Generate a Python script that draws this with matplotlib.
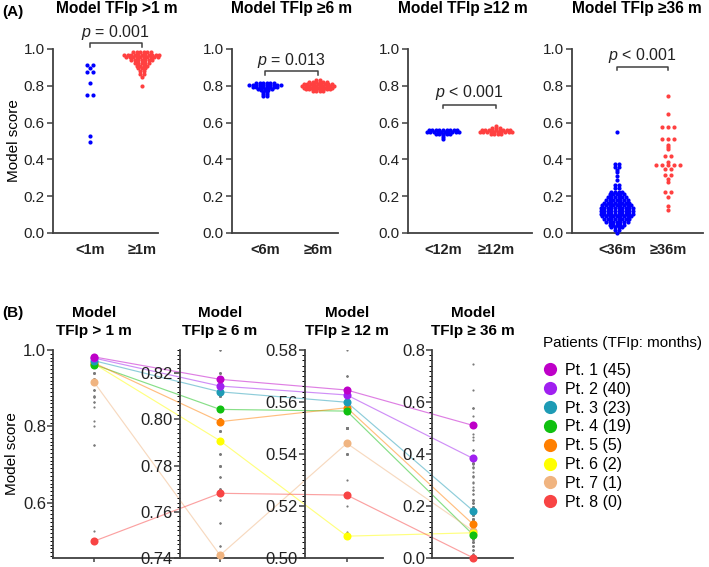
import numpy as np
import matplotlib
matplotlib.use("Agg")
import matplotlib.pyplot as plt
from matplotlib.lines import Line2D
from matplotlib.patches import ConnectionPatch
from matplotlib.ticker import MultipleLocator, FormatStrFormatter

plt.rcParams["font.family"] = ["Liberation Sans", "DejaVu Sans"]
plt.rcParams["mathtext.fontset"] = "custom"
plt.rcParams["mathtext.it"] = "Liberation Sans:italic"
plt.rcParams["mathtext.rm"] = "Liberation Sans"

W, H = 709, 567
AXC = "#404040"
BLUE = "#0000FF"
RED = "#FF4040"

lt1_levels = [0.915, 0.895, 0.877, 0.814, 0.752, 0.527, 0.495]
lt1_counts = [2, 1, 2, 1, 2, 1, 1]
ge1_levels = [0.985, 0.97, 0.955, 0.94, 0.925, 0.91, 0.895, 0.88, 0.865, 0.85, 0.80]
ge1_counts = [6, 11, 10, 7, 5, 4, 3, 2, 2, 1, 1]

lt6_levels = [0.815, 0.805, 0.795, 0.785, 0.775, 0.765, 0.755, 0.745]
lt6_counts = [6, 10, 8, 5, 3, 2, 2, 2]
ge6_levels = [0.83, 0.82, 0.81, 0.80, 0.79, 0.78, 0.77]
ge6_counts = [2, 6, 9, 10, 9, 8, 4]

lt12_levels = [0.56, 0.55, 0.54, 0.53, 0.52, 0.51]
lt12_counts = [9, 10, 5, 1, 1, 1]
ge12_levels = [0.58, 0.57, 0.56, 0.55, 0.54]
ge12_counts = [1, 3, 9, 10, 4]

lt36_levels = [0.547, 0.376, 0.36, 0.345, 0.33, 0.31, 0.29, 0.26, 0.245,
               0.225, 0.21, 0.195, 0.18, 0.165, 0.15, 0.135, 0.12, 0.105,
               0.09, 0.075, 0.06, 0.045, 0.03, 0.015, 0.0]
lt36_counts = [1, 2, 2, 1, 1, 1, 1, 2, 2,
               4, 5, 6, 7, 8, 9, 10, 10, 10,
               9, 8, 7, 5, 4, 2, 1]
ge36_levels = [0.746, 0.647, 0.576, 0.509, 0.478, 0.466, 0.455, 0.416, 0.384,
               0.367, 0.35, 0.314, 0.293, 0.275, 0.224, 0.197, 0.148, 0.123]
ge36_counts = [1, 1, 3, 3, 1, 1, 1, 2, 1, 5, 2, 2, 1, 1, 2, 1, 1, 1]

a_titles = ["Model TFIp >1 m", "Model TFIp \u22656 m", "Model TFIp \u226512 m", "Model TFIp \u226536 m"]
a_groups = [["<1m", "\u22651m"], ["<6m", "\u22656m"], ["<12m", "\u226512m"], ["<36m", "\u226536m"]]
p_texts = [r"$p$ = 0.001", r"$p$ = 0.013", r"$p$ < 0.001", r"$p$ < 0.001"]

# ---- Panel B: the eight patients' scores under each model
b_titles = ["Model\nTFIp > 1 m", "Model\nTFIp \u2265 6 m", "Model\nTFIp \u2265 12 m", "Model\nTFIp \u2265 36 m"]
pt_labels = ["Pt. 1 (45)", "Pt. 2 (40)", "Pt. 3 (23)", "Pt. 4 (19)",
             "Pt. 5 (5)", "Pt. 6 (2)", "Pt. 7 (1)", "Pt. 8 (0)"]
pt_colors = ["#BE00C8", "#A020F0", "#1E9BB5", "#10C010",
             "#FF7F00", "#FFFF00", "#F0B480", "#F84444"]
pt_m1 = [0.982, 0.979, 0.972, 0.962, 0.966, 0.964, 0.916, 0.499]
pt_m6 = [0.8173, 0.8144, 0.8119, 0.8043, 0.7990, 0.7907, 0.7412, 0.768]
pt_m12 = [0.5646, 0.5627, 0.5599, 0.5565, 0.5578, 0.5084, 0.5441, 0.5242]
pt_m36 = [0.510, 0.383, 0.182, 0.09, 0.130, 0.097, 0.105, 0.001]


def add_ax(left, right, top, bottom):
    return fig.add_axes([left / W, 1 - bottom / H, (right - left) / W, (bottom - top) / H])


def style(ax):
    for s in ["top", "right"]:
        ax.spines[s].set_visible(False)
    for s in ["left", "bottom"]:
        ax.spines[s].set_color(AXC)
        ax.spines[s].set_linewidth(1.3)
    ax.tick_params(colors=AXC, labelcolor="#222222", width=1.1)
    ax.set_facecolor("none")


def swarm(ax, x0, levels, counts, d_px, color):
    px = ax.transData.transform((1, 0))[0] - ax.transData.transform((0, 0))[0]
    dx = d_px / px
    xs, ys = [], []
    for v, n in zip(levels, counts):
        for i in range(n):
            xs.append(x0 + (i - (n - 1) / 2) * dx)
            ys.append(v)
    ax.scatter(xs, ys, s=9, color=color, linewidths=0, clip_on=False, zorder=3)


fig = plt.figure(figsize=(W / 100, H / 100), dpi=100)

# ---------------- Panel A
a_box = [(53, 158), (232, 338), (408, 532), (572, 703)]
a_xlim = [(-0.71, 1.31), (-0.62, 1.38), (-0.66, 1.68), (-0.88, 1.69)]
a_data = [
    (lt1_levels, lt1_counts, ge1_levels, ge1_counts, 6.0, 3.5),
    (lt6_levels, lt6_counts, ge6_levels, ge6_counts, 3.5, 3.5),
    (lt12_levels, lt12_counts, ge12_levels, ge12_counts, 3.6, 3.6),
    (lt36_levels, lt36_counts, ge36_levels, ge36_counts, 3.6, 6.0),
]
a_bracket = [1.031, 0.880, 0.696, 0.904]
a_ptext = [1.092, 0.94, 0.763, 0.967]
a_title_x = [117, 292, 463, 637]

for k in range(4):
    ax = add_ax(a_box[k][0], a_box[k][1], 49, 233)
    style(ax)
    ax.set_xlim(*a_xlim[k])
    ax.set_ylim(0, 1)
    ax.yaxis.set_major_locator(MultipleLocator(0.2))
    ax.yaxis.set_major_formatter(FormatStrFormatter("%.1f"))
    ax.tick_params(axis="y", length=4, labelsize=11, pad=2)
    ax.set_xticks([0, 1])
    ax.set_xticklabels(a_groups[k], fontweight="bold", fontsize=10.5)
    ax.tick_params(axis="x", length=0, pad=7)
    lv1, c1, lv2, c2, d1, d2 = a_data[k]
    swarm(ax, 0, lv1, c1, d1, BLUE)
    swarm(ax, 1, lv2, c2, d2, RED)
    yb = a_bracket[k]
    ax.plot([0, 0, 1, 1], [yb - 0.019, yb, yb, yb - 0.019], color=AXC, lw=1.1, clip_on=False)
    ax.text(0.5, a_ptext[k], p_texts[k], ha="center", va="center", fontsize=11.5,
            color="#222222", clip_on=False)
    fig.text(a_title_x[k] / W, 1 - 8 / H, a_titles[k], ha="center", va="center",
             fontsize=11.2, fontweight="bold")

fig.text(2 / W, 1 - 12 / H, "(A)", ha="left", va="center", fontsize=11, fontweight="bold")
fig.text(14 / W, 1 - 141 / H, "Model score", rotation=90, ha="center", va="center", fontsize=11)

# ---------------- Panel B
b_box = [(53, 180), (180, 305), (305, 383), (432, 513)]
b_xlim = [(-1.0, 2.1), (-0.976, 2.07), (-1.02, 0.88), (-1.0, 0.976)]
b_ylim = [(0.455, 1.0), (0.74, 0.83), (0.50, 0.58), (0.0, 0.8)]
b_major = [0.2, 0.02, 0.02, 0.2]
b_minor = [0.01, 0.002, 0.002, 0.02]
b_fmt = ["%.1f", "%.2f", "%.2f", "%.1f"]
b_scores = [pt_m1, pt_m6, pt_m12, pt_m36]
b_grey = [
    np.repeat(lt1_levels + ge1_levels, lt1_counts + ge1_counts),
    np.repeat(lt6_levels + ge6_levels, lt6_counts + ge6_counts),
    np.repeat(lt12_levels + ge12_levels, lt12_counts + ge12_counts),
    np.repeat(lt36_levels + ge36_levels, lt36_counts + ge36_counts),
]

baxes = []
for k in range(4):
    ax = add_ax(b_box[k][0], b_box[k][1], 350, 558)
    style(ax)
    ax.set_xlim(*b_xlim[k])
    ax.set_ylim(*b_ylim[k])
    ax.yaxis.set_major_locator(MultipleLocator(b_major[k]))
    ax.yaxis.set_minor_locator(MultipleLocator(b_minor[k]))
    ax.yaxis.set_major_formatter(FormatStrFormatter(b_fmt[k]))
    ax.tick_params(axis="y", which="major", length=4, labelsize=12, pad=1)
    ax.tick_params(axis="y", which="minor", length=2, width=0.7)
    ax.set_xticks([0])
    ax.set_xticklabels([""])
    ax.tick_params(axis="x", length=3)
    g = b_grey[k]
    ax.scatter(np.zeros(len(g)), g, s=2.5, color="#7A7A7A", linewidths=0, zorder=2)
    for j in range(7, -1, -1):
        ax.plot(0, b_scores[k][j], "o", ms=5.8, color=pt_colors[j], mew=0,
                zorder=4, clip_on=False)
    ax.text(0, 1.135, b_titles[k], transform=ax.get_xaxis_transform(), ha="center",
            va="center", fontsize=11, fontweight="bold", linespacing=1.3)
    baxes.append(ax)

for k in range(3):
    for j in range(8):
        cp = ConnectionPatch(xyA=(0, b_scores[k][j]), coordsA=baxes[k].transData,
                             xyB=(0, b_scores[k + 1][j]), coordsB=baxes[k + 1].transData,
                             color=pt_colors[j], alpha=0.5, lw=0.85, zorder=-1)
        fig.add_artist(cp)

fig.text(2 / W, 1 - 313 / H, "(B)", ha="left", va="center", fontsize=11, fontweight="bold")
fig.text(12 / W, 1 - 454 / H, "Model score", rotation=90, ha="center", va="center", fontsize=11)

fig.text(543 / W, 1 - 343 / H, "Patients (TFIp: months)", ha="left", va="center", fontsize=11)
handles = [Line2D([], [], marker="o", ls="", color=c, ms=9.5, mew=0) for c in pt_colors]
leg = fig.legend(handles, pt_labels, loc="upper left",
                 bbox_to_anchor=(542 / W, 1 - 363 / H), frameon=False, fontsize=11.5,
                 borderpad=0, borderaxespad=0,
                 handlelength=1.0, handletextpad=0.45, labelspacing=0.24)

fig.savefig("out.png", dpi=100)
